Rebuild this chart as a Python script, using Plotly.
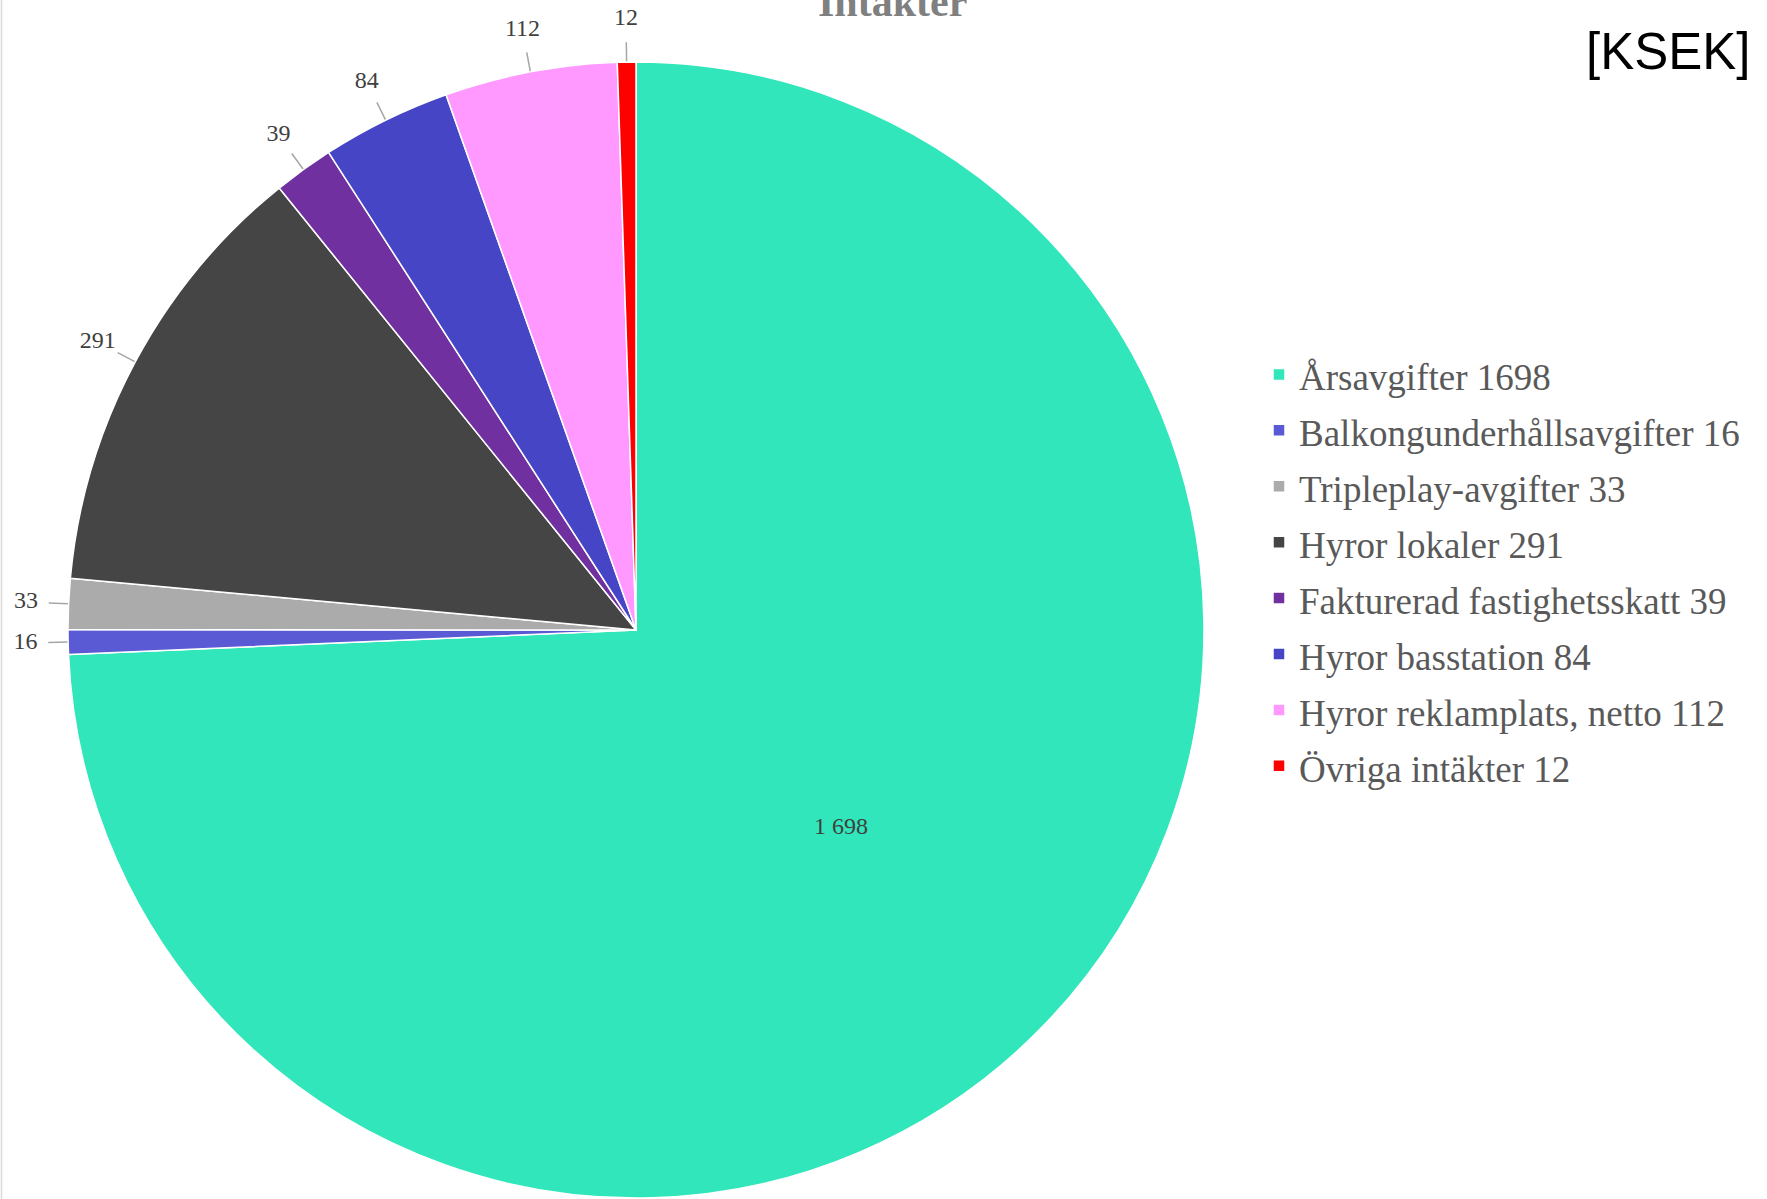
import math
import plotly.graph_objects as go

# ---- data ----
categories = [
    "Årsavgifter",
    "Balkongunderhållsavgifter",
    "Tripleplay-avgifter",
    "Hyror lokaler",
    "Fakturerad fastighetsskatt",
    "Hyror basstation",
    "Hyror reklamplats, netto",
    "Övriga intäkter",
]
values = [1698, 16, 33, 291, 39, 84, 112, 12]
colors = ["#30E6BA", "#5A5AD4", "#ABABAB", "#454545", "#7030A0", "#4545C5", "#FF99FF", "#FF0000"]
label_inside = [True, False, False, False, False, False, False, False]
title_text = "Intäkter"
unit_text = "[KSEK]"

# ---- layout constants (pixels) ----
W, H = 1767, 1199
CX, CY, R = 636, 630, 568          # pie centre and radius in figure pixels
LABEL_R = 1.075                    # outside label radius (in pie radii)
LEAD_R0, LEAD_R1 = 1.0, 1.035      # leader line extent
SERIF = "Liberation Serif, Times New Roman, serif"
LABEL_FONT = dict(family=SERIF, size=24, color="#404040")

legend_labels = [
    f'<span style="font-size:37px">{c} {v}</span>' for c, v in zip(categories, values)
]


def fmt(v):
    return f"{v:,}".replace(",", " ")


fig = go.Figure()
fig.add_trace(
    go.Pie(
        labels=legend_labels,
        values=values,
        sort=False,
        direction="clockwise",
        rotation=0,
        marker=dict(colors=colors, line=dict(color="white", width=1.5)),
        textinfo="value",
        texttemplate="%{value:,}",
        textposition=["inside" if f else "none" for f in label_inside],
        insidetextorientation="horizontal",
        insidetextfont=LABEL_FONT,
        domain=dict(x=[(CX - R) / W, (CX + R) / W], y=[(H - CY - R) / H, (H - CY + R) / H]),
        hoverinfo="skip",
    )
)

# outside labels + leader lines, positioned from the slice mid-angles
total = sum(values)
cum = 0
lx, ly, lt = [], [], []
lnx, lny = [], []
for v, inside in zip(values, label_inside):
    mid = (cum + v / 2) / total * 2 * math.pi
    cum += v
    if inside:
        continue
    s, c = math.sin(mid), math.cos(mid)
    lx.append(LABEL_R * s)
    ly.append(LABEL_R * c)
    lt.append(fmt(v))
    lnx += [LEAD_R0 * s, LEAD_R1 * s, None]
    lny += [LEAD_R0 * c, LEAD_R1 * c, None]

fig.add_trace(
    go.Scatter(
        x=lnx, y=lny, mode="lines",
        line=dict(color="#A6A6A6", width=1.5),
        showlegend=False, hoverinfo="skip", cliponaxis=False,
    )
)
fig.add_trace(
    go.Scatter(
        x=lx, y=ly, mode="text", text=lt,
        textposition="middle center", textfont=LABEL_FONT,
        showlegend=False, hoverinfo="skip", cliponaxis=False,
    )
)

fig.update_layout(
    width=W,
    height=H,
    margin=dict(l=0, r=0, t=0, b=0, pad=0, autoexpand=False),
    paper_bgcolor="white",
    plot_bgcolor="rgba(0,0,0,0)",
    separators=", ",
    showlegend=True,
    xaxis=dict(range=[-CX / R, (W - CX) / R], visible=False, fixedrange=True),
    yaxis=dict(range=[-(H - CY) / R, CY / R], visible=False, fixedrange=True),
    legend=dict(
        x=1259 / W,
        xanchor="left",
        y=1 - 341.5 / H,
        yanchor="top",
        font=dict(family=SERIF, size=40.7, color="#595959"),
        bgcolor="rgba(0,0,0,0)",
        borderwidth=0,
    ),
    annotations=[
        dict(
            text=f"<b>{title_text}</b>",
            x=892.5 / W,
            y=1 - 2 / H,
            xref="paper",
            yref="paper",
            xanchor="center",
            yanchor="middle",
            showarrow=False,
            font=dict(family=SERIF, size=42, color="#808080"),
        ),
        dict(
            text=unit_text,
            x=1752 / W,
            y=1 - 51 / H,
            xref="paper",
            yref="paper",
            xanchor="right",
            yanchor="middle",
            showarrow=False,
            font=dict(family="Liberation Sans, Arial, sans-serif", size=51, color="black"),
        ),
    ],
    shapes=[
        dict(
            type="line",
            xref="paper",
            yref="paper",
            x0=1.5 / W,
            x1=1.5 / W,
            y0=0,
            y1=1,
            line=dict(color="#D9D9D9", width=1.5),
        )
    ],
)

fig.write_html(
    "out.html",
    config={"displayModeBar": False},
    post_script="document.body.style.margin='0px';",
)
